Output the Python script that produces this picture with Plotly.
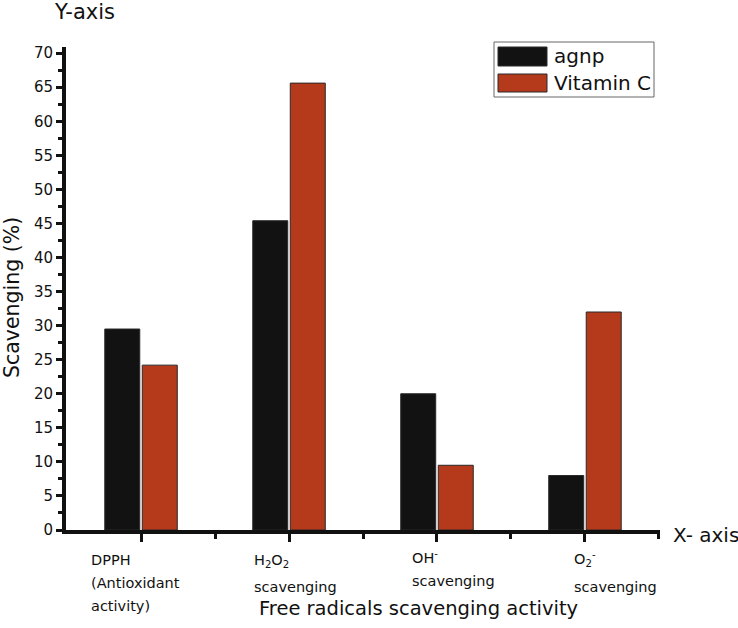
import plotly.graph_objects as go

categories = ["DPPH", "H2O2", "OH-", "O2-"]
tick_labels = [
    "DPPH<br>(Antioxidant<br>activity)",
    "H<sub>2</sub>O<sub>2</sub><br>scavenging",
    "OH<sup>-</sup><br>scavenging",
    "O<sub>2</sub><sup>-</sup><br>scavenging",
]
series_names = ["agnp", "Vitamin C"]
agnp = [29.5, 45.4, 20.0, 8.0]
vitamin_c = [24.2, 65.6, 9.5, 32.0]

colors = ["#121212", "#b5391b"]
FONT = "DejaVu Sans"
TXT = "#111111"

W, H = 738, 628
# plot area in pixel coordinates
X0, X1, Y0, Y1 = 66, 660, 47, 530
L, R, T, B = X0, W - X1, Y0, H - Y1


def px_x(p):
    return (p - X0) / (X1 - X0)


def px_y(p):
    return (Y1 - p) / (Y1 - Y0)


xs = list(range(len(categories)))

fig = go.Figure()
for name, vals, col in zip(series_names, [agnp, vitamin_c], colors):
    fig.add_trace(go.Bar(
        x=xs, y=vals, name=name,
        marker=dict(color=col, line=dict(color="#2a2a2a", width=1)),
        showlegend=False,
    ))

fig.update_layout(
    width=W, height=H,
    margin=dict(l=L, r=R, t=T, b=B, autoexpand=False),
    paper_bgcolor="white", plot_bgcolor="white",
    barmode="group", bargap=0.493, bargroupgap=0.067,
    font=dict(family=FONT, color=TXT),
    xaxis=dict(
        range=[-0.507, 3.507], showgrid=False, zeroline=False,
        showline=True, linecolor=TXT, linewidth=4,
        tickmode="array", tickvals=xs, ticktext=["" for _ in xs],
        ticks="outside", ticklen=8, tickwidth=3, tickcolor=TXT,
        minor=dict(tickmode="array", tickvals=[0.5, 1.5, 2.5, 3.5],
                   ticks="outside", ticklen=5, tickwidth=3, tickcolor=TXT),
    ),
    yaxis=dict(
        range=[0, 70.9], showgrid=False, zeroline=False,
        showline=True, linecolor=TXT, linewidth=4,
        tick0=0, dtick=5, ticks="outside", ticklen=6, tickwidth=3,
        tickcolor=TXT, tickfont=dict(size=15, family=FONT, color=TXT),
        minor=dict(dtick=2.5, ticks="outside", ticklen=4, tickwidth=3,
                   tickcolor=TXT),
    ),
)

annotations = []
# per-label left offset (px from category centre) and per-line centre offsets below axis
label_xshift = [-52, -37, -27, -13]
line_yshift = [[30, 53, 76], [31, 57], [27, 51], [29, 57]]
for i, txt in enumerate(tick_labels):
    for line, dy in zip(txt.split("<br>"), line_yshift[i]):
        annotations.append(dict(
            x=i, y=0, xref="x", yref="y", text=line, showarrow=False,
            xanchor="left", yanchor="middle", align="left",
            xshift=label_xshift[i], yshift=-dy,
            font=dict(size=14.5, family=FONT, color=TXT),
        ))

annotations += [
    dict(x=px_x(12), y=px_y(298), xref="paper", yref="paper", text="Scavenging (%)",
         textangle=-90, showarrow=False, xanchor="center", yanchor="middle",
         font=dict(size=20.5, family=FONT, color=TXT)),
    dict(x=px_x(418), y=px_y(608), xref="paper", yref="paper",
         text="Free radicals scavenging activity", showarrow=False,
         xanchor="center", yanchor="middle",
         font=dict(size=19.5, family=FONT, color=TXT)),
    dict(x=px_x(671), y=px_y(535), xref="paper", yref="paper", text="X- axis",
         showarrow=False, xanchor="left", yanchor="middle",
         font=dict(size=20, family=FONT, color=TXT)),
    dict(x=px_x(52), y=px_y(12), xref="paper", yref="paper", text="Y-axis",
         showarrow=False, xanchor="left", yanchor="middle",
         font=dict(size=21, family=FONT, color=TXT)),
]

# custom legend with large swatches
shapes = [dict(type="rect", xref="paper", yref="paper",
               x0=px_x(494), x1=px_x(654), y0=px_y(97), y1=px_y(42),
               line=dict(color="#666666", width=1), fillcolor="white")]
sw_y = [(47, 66), (74, 92)]
for (ya, yb), name, col in zip(sw_y, series_names, colors):
    shapes.append(dict(type="rect", xref="paper", yref="paper",
                       x0=px_x(498), x1=px_x(547), y0=px_y(yb), y1=px_y(ya),
                       line=dict(color="#2a2a2a", width=1), fillcolor=col))
    annotations.append(dict(x=px_x(552), y=px_y((ya + yb) / 2), xref="paper", yref="paper",
                            text=name, showarrow=False, xanchor="left", yanchor="middle",
                            font=dict(size=20, family=FONT, color=TXT)))

fig.update_layout(annotations=annotations, shapes=shapes)
fig.write_html("out.html", config={"displayModeBar": False},
               post_script="document.body.style.margin='0';")
